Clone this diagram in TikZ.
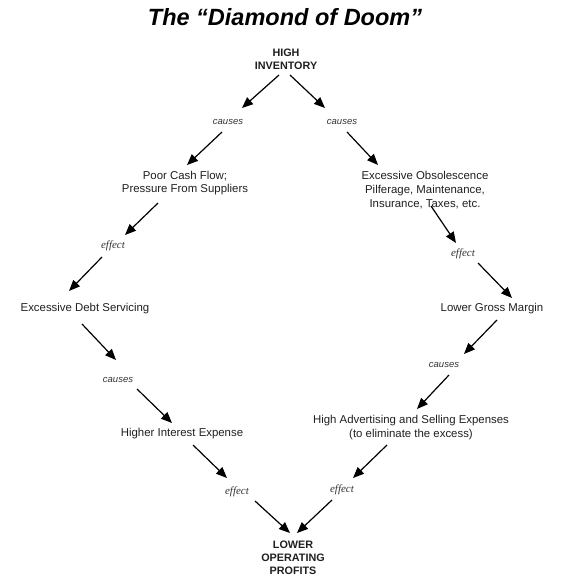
\documentclass[tikz,border=0pt]{standalone}
\usepackage{fontspec}
\setmainfont{Liberation Sans}
\newfontfamily\serifit{Liberation Serif}
\usetikzlibrary{arrows.meta,calc}
\begin{document}
\begin{tikzpicture}[x=1pt,y=-1pt,
  txt/.style={font=\fontsize{11.4}{13.6}\selectfont, text=black!88, align=center, inner sep=0pt},
  bld/.style={font=\fontsize{10.8}{12.8}\selectfont\bfseries, text=black!88, align=center, inner sep=0pt},
  cau/.style={font=\fontsize{9.5}{11}\selectfont\itshape, text=black!80, inner sep=0pt},
  eff/.style={font=\fontsize{11}{13}\serifit\itshape, text=black!80, inner sep=0pt},
  arr/.style={-{Triangle[length=11pt,width=9pt]}, line width=1.2pt}]
\useasboundingbox (0,0) rectangle (561,587);
\node[font=\fontsize{23.5}{26}\selectfont\bfseries\itshape] (title) at (285,17) {The “Diamond of Doom”};
\node[bld] (hi) at (286,59.5) {HIGH\\INVENTORY};
\node[cau] (c1) at (228,122) {causes};
\node[cau] (c2) at (342,122) {causes};
\node[txt] (pcf) at (185,183) {Poor Cash Flow;\\Pressure From Suppliers};
\node[txt] (eo) at (425,190) {Excessive Obsolescence\\Pilferage, Maintenance,\\Insurance, Taxes, etc.};
\node[eff] (e1) at (113,246) {effect};
\node[eff] (e2) at (463,254) {effect};
\node[txt] (eds) at (85,309) {Excessive Debt Servicing};
\node[txt] (lgm) at (492,309) {Lower Gross Margin};
\node[cau] (c3) at (118,380) {causes};
\node[cau] (c4) at (444,365) {causes};
\node[txt] (hie) at (182,434) {Higher Interest Expense};
\node[txt] (hase) at (411,427.5) {High Advertising and Selling Expenses\\(to eliminate the excess)};
\node[eff] (e3) at (237,492) {effect};
\node[eff] (e4) at (342,490) {effect};
\node[bld] (lop) at (293,558) {LOWER\\OPERATING\\PROFITS};
\draw[arr] ($(hi)+(-7,15.5)$) -- ($(c1)+(14,-14)$);
\draw[arr] ($(hi)+(4,15.5)$) -- ($(c2)+(-17,-14)$);
\draw[arr] ($(c1)+(-6,10)$) -- ($(pcf)+(2,-18)$);
\draw[arr] ($(c2)+(5,10)$) -- ($(eo)+(-47,-25)$);
\draw[arr] ($(pcf)+(-27,20)$) -- ($(e1)+(12,-11)$);
\draw[arr] ($(eo)+(6,16)$) -- ($(e2)+(-7,-11)$);
\draw[arr] ($(e1)+(-11,11)$) -- ($(eds)+(-16,-18)$);
\draw[arr] ($(e2)+(15,9)$) -- ($(lgm)+(20,-11)$);
\draw[arr] ($(eds)+(-3,15)$) -- ($(c3)+(-2,-20)$);
\draw[arr] ($(lgm)+(5,11)$) -- ($(c4)+(20,-11)$);
\draw[arr] ($(c3)+(19,9)$) -- ($(hie)+(-10,-11)$);
\draw[arr] ($(c4)+(5,10)$) -- ($(hase)+(6,-18.5)$);
\draw[arr] ($(hie)+(11,11)$) -- ($(e3)+(-10,-14)$);
\draw[arr] ($(hase)+(-24,17.5)$) -- ($(e4)+(11,-12)$);
\draw[arr] ($(e3)+(18,9)$) -- ($(lop)+(-3,-25)$);
\draw[arr] ($(e4)+(-10,10)$) -- ($(lop)+(4,-25)$);
\end{tikzpicture}
\end{document}
